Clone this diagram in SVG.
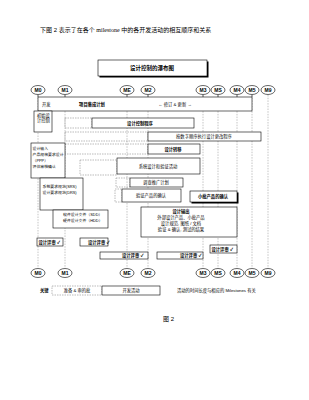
<svg xmlns="http://www.w3.org/2000/svg" width="309" height="400" viewBox="0 0 309 400">
<style>
text{font-family:"Liberation Sans","Noto Sans CJK SC",sans-serif;fill:#000}
.t{font-size:4.3px}
.s{font-size:3.9px}
.b{font-weight:bold}
.m{font-size:5px;font-weight:bold;text-anchor:middle}
.c{text-anchor:middle}
.box{fill:#fff;stroke:#000;stroke-width:0.6}
.dbox{fill:none;stroke:#777;stroke-width:0.5;stroke-dasharray:1.5 1}
.ms{fill:#fff;stroke:#000;stroke-width:0.6}
.vl{stroke:#888;stroke-width:0.5;stroke-dasharray:1.5 1.2;fill:none}
.sl{stroke:#000;stroke-width:0.5;fill:none}
</style>
<rect width="309" height="400" fill="#fff"/>
<text x="40" y="32" style="font-size:6px">下图 2 表示了在各个 <tspan style="font-family:'Liberation Serif',serif">milestone</tspan>  中的各开发活动的相互顺序和关系</text>
<g id="title"><rect x="99.5" y="61.5" width="109" height="16" fill="#000"/><rect class="box" x="98" y="60" width="109" height="16"/><text x="152" y="70" class="c b" style="font-size:5.5px">设计控制的瀑布图</text></g>
<g id="connectors">
<path class="vl" d="M38 95V268M65 95V268M127 95V268M148 95V268M203 95V268M218 95V268M237 95V268M252 95V268M268 95V268"/>
<path class="sl" d="M38 94.5V97M65 94.5V97M127 94.5V97M148 94.5V97M203 94.5V97M218 94.5V97M237 94.5V97M252 94.5V97"/>
</g>
<g id="milestones-top">
<g id="m0t"><ellipse class="ms" cx="38" cy="90" rx="7" ry="4.5"/><text class="m" x="38" y="91.8">M0</text></g>
<g id="m1t"><ellipse class="ms" cx="65" cy="90" rx="7" ry="4.5"/><text class="m" x="65" y="91.8">M1</text></g>
<g id="met"><ellipse class="ms" cx="127" cy="90" rx="7" ry="4.5"/><text class="m" x="127" y="91.8">ME</text></g>
<g id="m2t"><ellipse class="ms" cx="148" cy="90" rx="7" ry="4.5"/><text class="m" x="148" y="91.8">M2</text></g>
<g id="m3t"><ellipse class="ms" cx="203" cy="90" rx="7" ry="4.5"/><text class="m" x="203" y="91.8">M3</text></g>
<g id="mst"><ellipse class="ms" cx="218" cy="90" rx="7" ry="4.5"/><text class="m" x="218" y="91.8">MS</text></g>
<g id="m4t"><ellipse class="ms" cx="237" cy="90" rx="7" ry="4.5"/><text class="m" x="237" y="91.8">M4</text></g>
<g id="m5t"><ellipse class="ms" cx="252" cy="90" rx="7" ry="4.5"/><text class="m" x="252" y="91.8">M5</text></g>
<g id="m9t"><ellipse class="ms" cx="268" cy="90" rx="7" ry="4.5"/><text class="m" x="268" y="91.8">M9</text></g>
</g>
<g id="row-plan"><rect class="box" x="38" y="97" width="214" height="14"/><text class="t" x="42" y="105.5">开发</text><text class="t b c" x="92" y="105.5">项目集成计划</text><text class="t c" x="175" y="105.5">← 修订 &amp; 更新 →</text></g>
<g id="init"><rect class="box" x="34" y="111" width="18" height="21"/><text class="t" x="37" y="116.5">初始设</text><text class="t" x="37" y="121.5">计控制</text></g>
<g id="dcp"><rect class="dbox" x="65" y="118" width="27" height="10"/><rect class="box" x="92" y="118" width="102" height="10"/><text class="t b c" x="140" y="124.5">设计控制程序</text></g>
<g id="change"><rect class="dbox" x="65" y="132" width="83" height="9"/><rect class="box" x="148" y="132" width="113" height="9"/><text class="t c" x="204" y="138">按数字顺序执行设计更改程序</text></g>
<g id="transfer"><rect class="dbox" x="65" y="144" width="83" height="10"/><rect class="box" x="148" y="144" width="52" height="10"/><text class="t b c" x="173" y="150.5">设计转移</text></g>
<g id="input"><rect class="box" x="31" y="143" width="34" height="35"/><text class="s" x="32.5" y="150">设计输入</text><text class="s" x="32.5" y="156">产品规格要求设计</text><text class="s" x="32.5" y="162">（PPP）</text><text class="s" x="32.5" y="168">评估审核确认</text></g>
<g id="sysdv"><rect class="dbox" x="80" y="160" width="37" height="15"/><rect class="box" x="117" y="158" width="83" height="16"/><text class="t c" x="158" y="167.5">系统设计和验证活动</text></g>
<g id="promo"><rect class="dbox" x="116" y="178" width="14" height="9"/><rect class="box" x="130" y="178" width="53" height="9"/><text class="t c" x="156" y="184">调查推广计划</text></g>
<g id="verify"><rect class="dbox" x="115" y="189" width="7" height="13"/><rect class="box" x="122" y="189" width="59" height="13"/><text class="t c" x="151" y="197">验证产品的确认</text></g>
<g id="pilot"><rect x="191.5" y="192.5" width="47" height="11" fill="#000"/><rect class="box" x="190" y="191" width="47" height="11"/><text class="t b c" x="213" y="198">小批产品的确认</text></g>
<g id="srs"><rect class="box" x="40" y="178" width="43" height="32"/><text class="s" x="42.5" y="188">系统要求规范(SRS)</text><text class="s" x="42.5" y="193.5">设计要求规范(DRS)</text></g>
<g id="sdd"><rect class="box" x="53" y="210" width="55" height="18"/><text class="s" x="63" y="215.5">软件设计文件（SDD）</text><text class="s" x="63" y="221.5">硬件设计文件（HDD）</text></g>
<g id="output"><rect class="box" x="141" y="207" width="96" height="30"/><text class="t b c" x="181" y="213">设计输出</text><text class="t c" x="181" y="219">外部设计产品、小批产品</text><text class="t c" x="181" y="225">设计规范, 图纸 / 文档</text><text class="t c" x="181" y="231">验证 &amp; 确认, 测试的结果</text></g>
<g id="rev1"><rect class="box" x="37" y="238" width="26" height="8"/><text class="t b" x="38.5" y="243.5">设计评审 ✓</text></g>
<g id="rev2"><rect class="box" x="80" y="238" width="28" height="8"/><text class="t b" x="88" y="243.5">设计评审 ✓</text></g>
<g id="rev3"><rect class="box" x="100" y="252" width="48" height="7"/><text class="t b" x="122" y="257">设计评审 ✓</text></g>
<g id="rev4"><rect class="box" x="157" y="252" width="46" height="7"/><text class="t b" x="180" y="257">设计评审 ✓</text></g>
<g id="rev5"><rect class="box" x="210" y="245" width="27" height="8"/><text class="t b" x="211.5" y="250.5">设计评审 ✓</text></g>
<g id="milestones-bottom">
<g id="m0b"><ellipse class="ms" cx="38" cy="273" rx="7" ry="4.5"/><text class="m" x="38" y="274.8">M0</text></g>
<g id="m1b"><ellipse class="ms" cx="65" cy="273" rx="7" ry="4.5"/><text class="m" x="65" y="274.8">M1</text></g>
<g id="meb"><ellipse class="ms" cx="127" cy="273" rx="7" ry="4.5"/><text class="m" x="127" y="274.8">ME</text></g>
<g id="m2b"><ellipse class="ms" cx="148" cy="273" rx="7" ry="4.5"/><text class="m" x="148" y="274.8">M2</text></g>
<g id="m3b"><ellipse class="ms" cx="203" cy="273" rx="7" ry="4.5"/><text class="m" x="203" y="274.8">M3</text></g>
<g id="msb"><ellipse class="ms" cx="218" cy="273" rx="7" ry="4.5"/><text class="m" x="218" y="274.8">MS</text></g>
<g id="m4b"><ellipse class="ms" cx="237" cy="273" rx="7" ry="4.5"/><text class="m" x="237" y="274.8">M4</text></g>
<g id="m5b"><ellipse class="ms" cx="252" cy="273" rx="7" ry="4.5"/><text class="m" x="252" y="274.8">M5</text></g>
<g id="m9b"><ellipse class="ms" cx="268" cy="273" rx="7" ry="4.5"/><text class="m" x="268" y="274.8">M9</text></g>
</g>
<g id="legend"><text class="t b" x="40" y="292">关键</text><rect class="dbox" x="52" y="286" width="50" height="9"/><text class="t c" x="77" y="292">准备 &amp; 审的批</text><rect class="box" x="102" y="286" width="58" height="9"/><text class="t c" x="131" y="292">开发活动</text><text class="t" x="177" y="292">活动的时间长度与相应的 Milestones 有关</text></g>
<text x="163" y="321" style="font-size:6px">图 2</text>
</svg>
